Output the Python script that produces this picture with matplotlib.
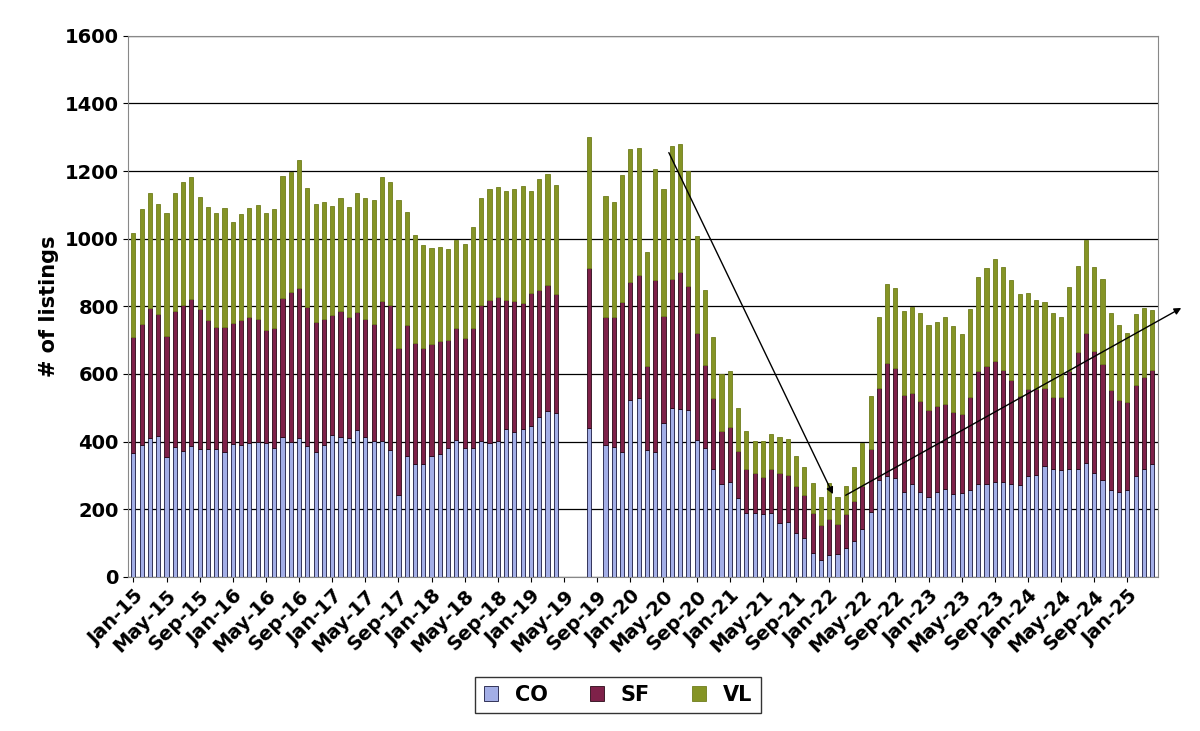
import matplotlib
matplotlib.use("Agg")
import matplotlib.pyplot as plt
import numpy as np

months = ["Jan","Feb","Mar","Apr","May","Jun","Jul","Aug","Sep","Oct","Nov","Dec"]
categories = [f"{months[i % 12]}-{15 + i // 12}" for i in range(124)]

# totals (CO+SF+VL), SF top, CO values; None = no data
total_1 = [1018,1087,1134,1102,1076,1135,1168,1181,1122,1094,1077,1092,1048,1074,1092,1101,1077,1089,1185,1198,1232,1151,1104,1107,1097,1119,1094,1134,1119,1115,1181,1167,1114,1079,1011,981,971,975,968,996,984,1035,1119,1146,1152,1140,1147,1156,1140,1176,1191,1158]
sftop_1 = [708,749,795,777,712,787,805,823,792,759,739,739,750,760,769,763,730,735,824,843,855,798,754,763,775,786,769,783,762,749,817,805,676,746,690,676,689,698,701,735,706,736,803,818,828,818,815,810,838,849,863,835]
co_1 = [367,389,410,417,354,385,373,386,377,377,377,368,393,391,397,400,397,380,413,399,410,386,370,390,418,414,410,434,414,403,403,374,242,356,333,333,356,363,380,405,380,382,403,395,403,436,429,437,447,472,491,484]

total_2 = [1127,1109,1188,1265,1268,960,1206,1147,1275,1280,1200,1009,848,708,601,608,498,432,402,402,422,413,407,356,325,277,237,277,237,267,326,395,536,767,865,855,785,799,781,746,755,767,743,717,791,887,912,939,917,877,835,840,819,814,781,767,858,920,996,917,882,781,746,721,776,794,788]
sftop_2 = [767,767,813,873,893,622,877,772,880,902,860,720,625,528,430,442,371,319,306,295,319,306,301,269,241,189,154,170,157,185,223,267,377,558,631,616,538,544,521,494,505,511,488,480,532,609,622,639,612,583,536,556,554,558,532,532,610,666,720,668,630,552,523,517,568,592,612]
co_2 = [390,385,370,523,528,375,370,454,498,495,493,405,380,318,274,281,234,190,188,185,188,159,161,129,114,70,50,65,68,85,107,142,193,287,297,292,252,274,252,237,252,259,245,248,257,274,274,281,281,274,272,298,300,327,318,316,318,318,337,306,287,257,252,257,298,318,334]

total = total_1 + [None]*3 + [1300] + [None] + total_2
sftop = sftop_1 + [None]*3 + [912] + [None] + sftop_2
co = co_1 + [None]*3 + [441] + [None] + co_2

x = np.array([i for i, v in enumerate(total) if v is not None])
CO = np.array([co[i] for i in x], float)
SF = np.array([sftop[i] - co[i] for i in x], float)
VL = np.array([total[i] - sftop[i] for i in x], float)

fig = plt.figure(figsize=(12, 7.31), dpi=100)
ax = fig.add_axes([0.107, 0.211, 0.858, 0.740])
w = 0.5
ax.bar(x, CO, w, color="#a3aee6", edgecolor="#1a1a40", linewidth=0.6, label="CO", zorder=3)
ax.bar(x, SF, w, bottom=CO, color="#7e2149", edgecolor="#2a0a18", linewidth=0.6, label="SF", zorder=3)
ax.bar(x, VL, w, bottom=CO + SF, color="#859425", edgecolor="#6f7d1c", linewidth=0.6, label="VL", zorder=3)

ax.set_xlim(-0.6, 123.7)
ax.set_ylim(0, 1600)
ax.set_yticks(range(0, 1601, 200))
ax.yaxis.grid(True, color="black", linewidth=0.9, zorder=0)
ax.set_xticks(range(0, 121, 4))
ax.set_xticklabels([categories[i] for i in range(0, 121, 4)], rotation=45, ha="right",
                   rotation_mode="anchor", fontsize=14, fontweight="bold")
for lab in ax.get_yticklabels():
    lab.set_fontsize(14); lab.set_fontweight("bold")
ax.set_ylabel("# of listings", fontsize=15, fontweight="bold")
for s in ax.spines.values():
    s.set_color("#888888")

ax.annotate("", xy=(84.6, 237), xytext=(64.5, 1262),
            arrowprops=dict(arrowstyle="-|>", color="black", lw=1), annotation_clip=False)
ax.annotate("", xy=(126.8, 799), xytext=(85.7, 237),
            arrowprops=dict(arrowstyle="-|>", color="black", lw=1), annotation_clip=False)

leg = fig.legend(loc="lower center", bbox_to_anchor=(0.515, 0.01), ncol=3, frameon=True,
                 prop={"weight": "bold", "size": 15}, fancybox=False, edgecolor="black",
                 handlelength=0.7, handleheight=0.7, columnspacing=2.0)
fig.savefig("out.png", dpi=100)
